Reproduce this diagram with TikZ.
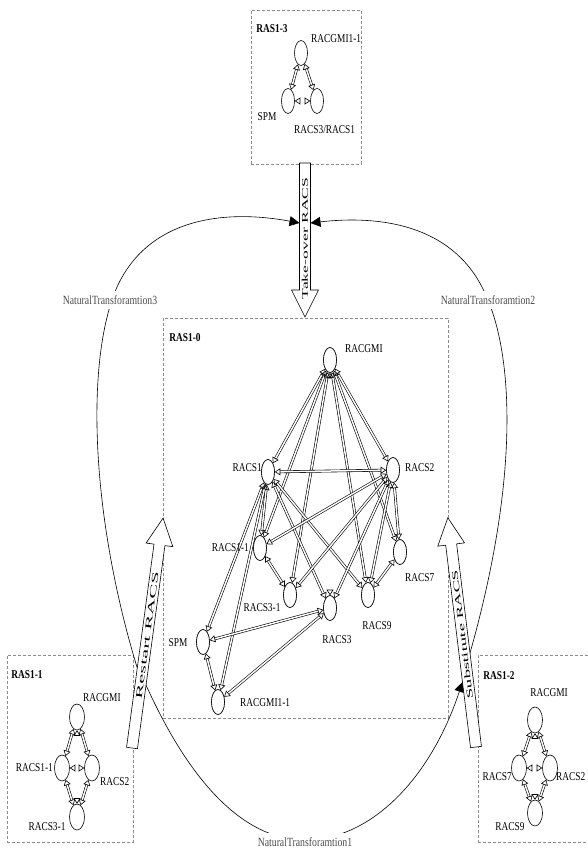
\documentclass[tikz,border=0pt]{standalone}
\usepackage{fontspec}
\setmainfont{Liberation Serif}[FakeStretch=0.78]
\newfontfamily\arrfont{Liberation Serif}
\usetikzlibrary{shapes.geometric,arrows.meta,calc}
\tikzset{
 st/.style={draw, ellipse, line width=0.6pt, fill=white, minimum width=13pt, minimum height=25pt, inner sep=0pt},
 lab/.style={font=\fontsize{12}{12}\selectfont, inner sep=0pt, text=black},
 boxlab/.style={font=\fontsize{12}{12}\selectfont\bfseries, inner sep=0pt},
 ntlab/.style={font=\fontsize{12.5}{12.5}\selectfont, text=black!70, fill=white, inner xsep=1pt, inner ysep=5pt},
 dedge/.style={draw, line width=0.6pt, double=white, double distance=1.5pt,
   {Triangle[open,length=5.5pt,width=7pt]}-{Triangle[open,length=5.5pt,width=7pt]}},
 rasbox/.style={draw=black!45, dash pattern=on 3pt off 2pt, line width=0.5pt, inner sep=0pt, anchor=north west},
 ntcurve/.style={draw, line width=0.6pt, -{Triangle[length=10pt,width=10pt]}},
 bigarr/.style={draw, line width=0.6pt, fill=white},
}
\newcommand\bigarrow[5]{%
\begin{scope}[shift={#1}, rotate=#2]
 \draw[bigarr] (0,-5.5) -- ({#3-27},-5.5) -- ({#3-27},-13.5) -- (#3,0) -- ({#3-27},13.5) -- ({#3-27},5.5) -- (0,5.5) -- cycle;
 \node[rotate=#4, inner sep=0pt, font=\arrfont\fontsize{10}{10}\selectfont] at ({#3*0.49},0) {#5};
\end{scope}}
\begin{document}
\begin{tikzpicture}[x=1pt,y=-1pt]
\useasboundingbox (0,0) rectangle (587,850);

% ---------- boxes
\node[rasbox, minimum width=110pt, minimum height=154pt] (ras13) at (251,10) {};
\node[rasbox, minimum width=285pt, minimum height=400pt] (ras10) at (163,318) {};
\node[rasbox, minimum width=126pt, minimum height=187pt] (ras11) at (7,655) {};
\node[rasbox, minimum width=114pt, minimum height=187pt] (ras12) at (478,655) {};

\node[boxlab] (l13) at (272,29) {RAS1-3};
\node[boxlab] (l10) at (185,338) {RAS1-0};
\node[boxlab] (l11) at (27,675) {RAS1-1};
\node[boxlab] (l12) at (499,676) {RAS1-2};

% ---------- natural transformation curves
\coordinate (c3s) at (141,680);
\coordinate (c3e) at (299.5,223);
\coordinate (c1s) at (142,676);
\coordinate (c1e) at (462.5,682);
\coordinate (c2s) at (468,660);
\coordinate (c2e) at (310.5,223);
\draw[ntcurve] (c3s) .. controls (90,520) and (85,360) .. (117,287) .. controls (150,215) and (230,210) .. (c3e);
\draw[ntcurve] (c1s) .. controls (185,775) and (240,840) .. (305,840) .. controls (370,840) and (430,780) .. (c1e);
\draw[ntcurve] (c2s) .. controls (520,480) and (515,350) .. (482,287) .. controls (450,225) and (380,215) .. (c2e);
\node[ntlab] (nt3) at (110,300) {NaturalTransforamtion3};
\node[ntlab] (nt2) at (488,300) {NaturalTransforamtion2};
\node[ntlab] (nt1) at (305,842) {NaturalTransforamtion1};

% ---------- big arrows
\bigarrow{(305,163)}{-90}{154}{90}{\resizebox{122pt}{6pt}{Take-over RACS}}
\bigarrow{(132,748)}{82.3}{232}{82.3}{\resizebox{128pt}{6pt}{Restart RACS}}
\bigarrow{(476,747)}{97}{231}{97}{\resizebox{130pt}{6pt}{Substitute RACS}}

% ---------- RAS1-3
\node[st] (t1) at (301,53) {};
\node[st] (t2) at (288,101) {};
\node[st] (t3) at (317,101) {};
\draw[dedge] (t1) -- (t2);
\draw[dedge] (t1) -- (t3);
\draw[dedge] (t2) -- (t3);
\node[lab, anchor=west] (lt1) at (311,39) {RACGMI1-1};
\node[lab] (lt2) at (267,117) {SPM};
\node[lab, anchor=west] (lt3) at (294,130) {RACS3/RACS1};

% ---------- RAS1-0
\node[st] (g) at (330,360) {};
\node[st] (s1) at (268,472) {};
\node[st] (s2) at (393,470) {};
\node[st] (s11) at (260,548) {};
\node[st] (s7) at (400,552) {};
\node[st] (s31) at (290,595) {};
\node[st] (s3) at (330,608) {};
\node[st] (s9) at (368,595) {};
\node[st] (spm) at (203,642) {};
\node[st] (g11) at (218,702) {};
\foreach \u/\v in {g/s1,g/s2,g/s11,g/s31,g/s3,g/s9,g/s7,
  s1/s2,s1/s11,s1/s3,s1/spm,s1/g11,s1/s9,
  s2/s7,s2/s11,s2/s31,s2/s3,s2/s9,
  s11/s31,s7/s9,s3/spm,s3/g11,spm/g11}
  \draw[dedge] (\u) -- (\v);
\foreach \n in {g,s1,s2,s11,s7,s31,s3,s9,spm,g11}
  \node[st] at (\n) {};
\node[lab, anchor=west] (lg) at (345,349) {RACGMI};
\node[lab, anchor=east] (ls1) at (262,468) {RACS1};
\node[lab, anchor=west] (ls2) at (405,468) {RACS2};
\node[lab, anchor=east] (ls11) at (249,548) {RACS1-1};
\node[lab, anchor=west] (ls7) at (405,578) {RACS7};
\node[lab] (ls31) at (262,608) {RACS3-1};
\node[lab] (ls3) at (337,640) {RACS3};
\node[lab] (ls9) at (377,626) {RACS9};
\node[lab] (lspm) at (178,643) {SPM};
\node[lab, anchor=west] (lg11) at (240,703) {RACGMI1-1};

% ---------- RAS1-1
\node[st, minimum width=15pt, minimum height=26pt] (a1) at (77,717) {};
\node[st, minimum width=15pt, minimum height=26pt] (a2) at (62,768) {};
\node[st, minimum width=15pt, minimum height=26pt] (a3) at (92,768) {};
\node[st, minimum width=15pt, minimum height=26pt] (a4) at (77,817) {};
\foreach \u/\v in {a1/a2,a1/a3,a2/a4,a3/a4,a1/a4,a2/a3}
  \draw[dedge] (\u) -- (\v);
\node[lab, anchor=west] (la1) at (83,698) {RACGMI};
\node[lab, anchor=east] (la2) at (53,768) {RACS1-1};
\node[lab, anchor=west] (la3) at (100,782) {RACS2};
\node[lab] (la4) at (47,827) {RACS3-1};

% ---------- RAS1-2
\node[st, minimum width=15pt, minimum height=26pt] (b1) at (535,720) {};
\node[st, minimum width=15pt, minimum height=26pt] (b2) at (519,768) {};
\node[st, minimum width=15pt, minimum height=26pt] (b3) at (550,768) {};
\node[st, minimum width=15pt, minimum height=26pt] (b4) at (535,813) {};
\foreach \u/\v in {b1/b2,b1/b3,b2/b4,b3/b4,b1/b4,b2/b3}
  \draw[dedge] (\u) -- (\v);
\node[lab] (lb1) at (549,693) {RACGMI};
\node[lab, anchor=east] (lb2) at (512,777) {RACS7};
\node[lab, anchor=west] (lb3) at (556,777) {RACS2};
\node[lab] (lb4) at (510,827) {RACS9};
\end{tikzpicture}
\end{document}
